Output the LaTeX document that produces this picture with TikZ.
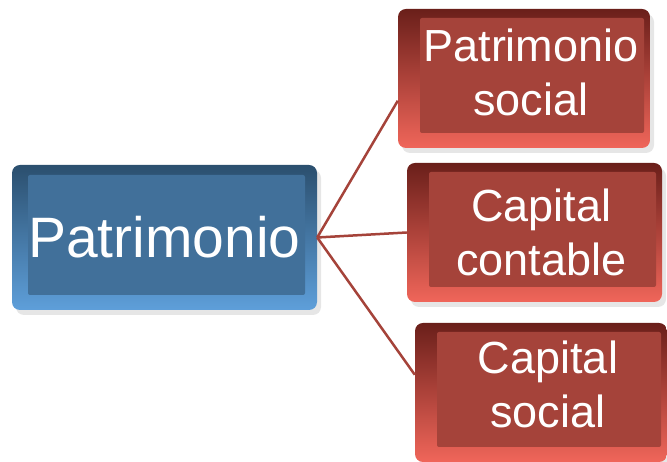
\documentclass[tikz,border=0pt]{standalone}
\usepackage{fontspec}
\setmainfont{Liberation Sans}
\usetikzlibrary{positioning,calc,shadows}

\definecolor{blueFace}{HTML}{41709A}
\definecolor{blueLight}{HTML}{5E9FDA}
\definecolor{blueDark}{HTML}{2B4F6E}
\definecolor{redFace}{HTML}{A5433A}
\definecolor{redLight}{HTML}{F0665A}
\definecolor{redDark}{HTML}{6A1F1A}

\tikzset{
  box/.style={shade, shading=axis, shading angle=-60, rounded corners=8pt,
    inner sep=0pt, align=center, text=white,
    drop shadow={shadow xshift=4pt, shadow yshift=-5pt, opacity=0.2}},
  bluebox/.style={box, top color=blueDark, bottom color=blueLight,
    minimum width=305pt, minimum height=145pt,
    font=\fontsize{57}{66}\selectfont,
    path picture={\fill[blueFace, rounded corners=2pt]
      ([shift={(16pt,15pt)}]path picture bounding box.south west) rectangle
      ([shift={(-12pt,-10pt)}]path picture bounding box.north east);}},
  redbox/.style={box, top color=redDark, bottom color=redLight,
    minimum width=252pt, minimum height=139pt,
    font=\fontsize{45}{54}\selectfont,
    path picture={\fill[redFace, rounded corners=2pt]
      ([shift={(22pt,15pt)}]path picture bounding box.south west) rectangle
      ([shift={(-6pt,-9pt)}]path picture bounding box.north east);}},
  link/.style={draw=redFace, line width=2.5pt}
}

\begin{document}
\begin{tikzpicture}[x=1pt, y=1pt]
\useasboundingbox (0,0) rectangle (667,462);

% --- boxes ---
\node[bluebox] (patr) at (164.5,224.5) {Patrimonio};

\node[redbox] (patsoc) at (524,383.5) {\hspace*{14pt}Patrimonio\\\hspace*{14pt}social\\[-42pt]};
\node[redbox, minimum width=255pt] (capcont) at (534.5,229.5) {\hspace*{14pt}Capital\\\hspace*{14pt}contable};
\node[redbox] (capsoc) at (541,69.5) {\hspace*{14pt}Capital\\\hspace*{14pt}social\\[-38pt]};

% --- connectors ---
\draw[link] (patr.east) -- (patsoc.190);
\draw[link] (patr.east) -- (capcont.west);
\draw[link] (patr.east) -- (capsoc.172);

\end{tikzpicture}
\end{document}
